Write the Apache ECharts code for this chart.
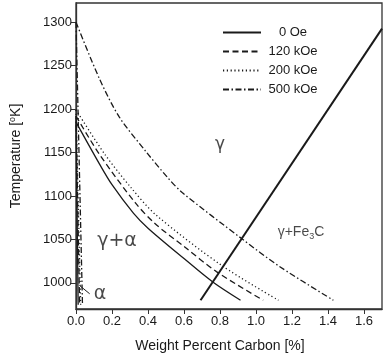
<!DOCTYPE html>
<html>
<head>
<meta charset="utf-8">
<script src="https://cdn.jsdelivr.net/npm/echarts@6/dist/echarts.min.js"></script>
<style>
  html, body { margin: 0; padding: 0; background: #fff; }
  #chart { width: 387px; height: 358px; }
</style>
</head>
<body>
<div id="chart"></div>
<script>
// axis ticks
const xTicks = [0, 0.2, 0.4, 0.6, 0.8, 1.0, 1.2, 1.4, 1.6];
const yTicks = [1000, 1050, 1100, 1150, 1200, 1250, 1300];

// field names (legend order)
const fields = ["0 Oe", "120 kOe", "200 kOe", "500 kOe"];

// gamma / (gamma+alpha) boundaries, [wt% C, T in K]
const a3Zero = [[0, 1185], [0.13, 1137], [0.2, 1113], [0.32, 1080], [0.4, 1063], [0.6, 1028], [0.76, 1001], [0.914, 980]];
const a3K120 = [[0, 1192], [0.13, 1148], [0.33, 1092], [0.44, 1068], [0.6, 1042], [0.78, 1013], [1.04, 980]];
const a3K200 = [[0, 1199], [0.16, 1148], [0.3, 1111], [0.44, 1079], [0.81, 1020], [1.125, 980]];
const a3K500 = [[0, 1300], [0.13, 1235], [0.24, 1191], [0.385, 1152], [0.51, 1121], [0.59, 1104], [0.92, 1051], [1.13, 1019], [1.43, 980]];

// alpha / (gamma+alpha) boundaries (almost vertical at x ~ 0)
const alZero = [[0, 1185], [0.012, 975]];
const alK120 = [[0, 1192], [0.02, 975]];
const alK200 = [[0, 1199], [0.026, 975]];
const alK500 = [[0, 1300], [0.036, 975]];

// gamma / (gamma+Fe3C) line
const acm = [[0.692, 980], [1.7, 1292.5]];

// little pointer for the alpha field
const alphaPointer = [[0.02, 997], [0.076, 987.5]];

// phase-field labels: [x, T, text]
const fieldLabels = [
  [0.8, 1159, "{g|γ}"],
  [0.228, 1048.5, "{b|γ+α}"],
  [0.133, 987, "{b|α}"],
  [1.25, 1058, "{m|γ+Fe}{s|3}{m|C}"]
];

const lineTypes = ["solid", [6, 3.5], [1.2, 2.6], [6, 2.5, 1.5, 2.5]];
const boundaries = [[a3Zero, alZero], [a3K120, alK120], [a3K200, alK200], [a3K500, alK500]];

const ink = "#1a1a1a";
const series = [];
boundaries.forEach(function (pair, i) {
  pair.forEach(function (pts, j) {
    series.push({
      name: fields[i],
      type: "line",
      data: pts,
      smooth: j === 0 ? 0.3 : false,
      symbol: "none",
      silent: true,
      itemStyle: { color: ink },
      lineStyle: { color: ink, width: 1.3, type: lineTypes[i] },
      z: 3
    });
  });
});
series.push({
  name: "Acm",
  type: "line",
  data: acm,
  symbol: "none",
  lineStyle: { color: ink, width: 2 },
  z: 4
});
series.push({
  name: "pointer",
  type: "line",
  data: alphaPointer,
  symbol: "none",
  lineStyle: { color: ink, width: 1 },
  z: 4
});
series.push({
  name: "labels",
  type: "scatter",
  symbolSize: 0,
  data: fieldLabels.map(function (d) { return { value: [d[0], d[1]], text: d[2] }; }),
  label: {
    show: true,
    position: "inside",
    formatter: function (p) { return p.data.text; },
    rich: {
      g: { fontSize: 17, color: ink, fontFamily: "DejaVu Sans" },
      b: { fontSize: 19, color: ink, fontFamily: "DejaVu Sans" },
      m: { fontSize: 14, color: ink, fontFamily: "Liberation Sans" },
      s: { fontSize: 9, color: ink, fontFamily: "Liberation Sans", padding: [8, 0, 0, 0] }
    }
  },
  z: 5
});

const chart = echarts.init(document.getElementById("chart"));
chart.setOption({
  animation: false,
  textStyle: { fontFamily: "Liberation Sans", color: ink },
  grid: {
    left: 69, right: 5, top: 3, bottom: 45,
    show: true, borderColor: "#333", borderWidth: 1.3
  },
  legend: {
    data: fields,
    orient: "vertical",
    left: 217,
    top: 21,
    itemWidth: 38,
    itemHeight: 14,
    itemGap: 6,
    itemStyle: { opacity: 0 },
    formatter: function (name) { return "{c|" + name + "}"; },
    textStyle: {
      fontSize: 13,
      color: ink,
      rich: { c: { width: 54, align: "center", fontSize: 13, color: ink } }
    }
  },
  xAxis: {
    type: "value",
    min: 0,
    max: 1.7,
    name: "Weight Percent Carbon [%]",
    nameLocation: "middle",
    nameGap: 30,
    nameTextStyle: { fontSize: 14, color: ink, padding: [0, 18, 0, 0] },
    axisLine: { lineStyle: { color: "#333", width: 1.3 } },
    axisTick: { inside: false, length: 5, customValues: xTicks, lineStyle: { color: "#333" } },
    axisLabel: {
      customValues: xTicks,
      fontSize: 13,
      color: ink,
      margin: 6,
      formatter: function (v) { return v.toFixed(1); }
    },
    splitLine: { show: false }
  },
  yAxis: {
    type: "value",
    min: 970,
    max: 1322,
    name: "{n|Temperature [}{s|o}{n|K]}",
    nameLocation: "middle",
    nameGap: 52,
    nameTextStyle: {
      rich: {
        n: { fontSize: 14, color: ink },
        s: { fontSize: 9, color: ink, padding: [0, 0, 7, 0] }
      }
    },
    axisLine: { lineStyle: { color: "#333", width: 1.3 } },
    axisTick: { inside: false, length: 5, customValues: yTicks, lineStyle: { color: "#333" } },
    axisLabel: {
      customValues: yTicks,
      fontSize: 13,
      color: ink,
      margin: 4,
      formatter: function (v) { return String(v); }
    },
    splitLine: { show: false }
  },
  series: series
});
</script>
</body>
</html>
